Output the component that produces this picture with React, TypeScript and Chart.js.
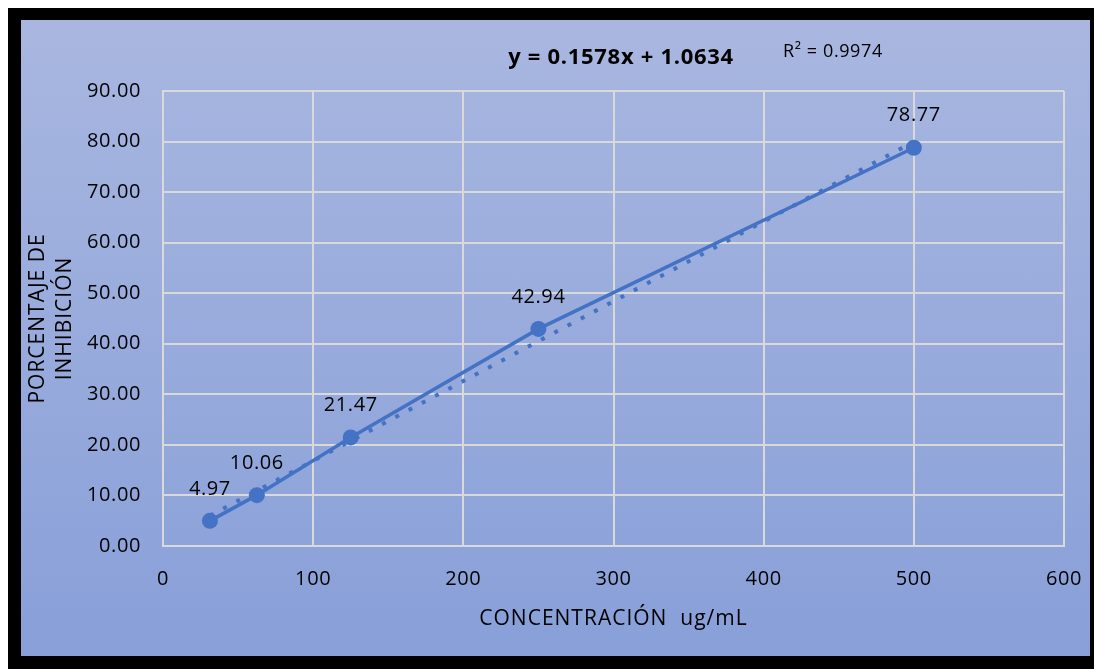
import React, { useEffect, useRef } from "react";
import { Chart, registerables } from "chart.js";

Chart.register(...registerables);

// Concentration (ug/mL) and measured inhibition (%)
const concentrations = [31.25, 62.5, 125, 250, 500];
const inhibition = [4.97, 10.06, 21.47, 42.94, 78.77];

// Linear fit shown on the chart
const slope = 0.1578;
const intercept = 1.0634;
const rSquared = 0.9974;

const yTitleLines = ["PORCENTAJE DE", "INHIBICIÓN"];
const xTitle = "CONCENTRACIÓN  ug/mL";

const LINE_COLOR = "#4472c4";
const GRID_COLOR = "rgba(217,217,217,1)";
const FONT = "'Open Sans', 'Noto Sans', sans-serif";

const textPlugin = {
  id: "chartText",
  afterDraw(chart: any) {
    const ctx = chart.ctx as CanvasRenderingContext2D;
    const xs = chart.scales.x;
    const ys = chart.scales.y;
    const area = chart.chartArea;
    ctx.save();
    ctx.fillStyle = "#000";
    (ctx as any).letterSpacing = "0.6px";

    // y tick labels
    ctx.font = `20px ${FONT}`;
    ctx.textAlign = "right";
    ctx.textBaseline = "middle";
    ys.ticks.forEach((t: any) => {
      ctx.fillText(Number(t.value).toFixed(2), area.left - 22, ys.getPixelForValue(t.value));
    });

    // x tick labels
    ctx.textAlign = "center";
    xs.ticks.forEach((t: any) => {
      ctx.fillText(String(t.value), xs.getPixelForValue(t.value), area.bottom + 33);
    });

    // data labels
    concentrations.forEach((c, i) => {
      ctx.fillText(inhibition[i].toFixed(2), xs.getPixelForValue(c), ys.getPixelForValue(inhibition[i]) - 32);
    });

    // axis titles
    (ctx as any).letterSpacing = "1px";
    ctx.font = `21px ${FONT}`;
    ctx.fillText(xTitle, (area.left + area.right) / 2, area.bottom + 73);

    const midY = (area.top + area.bottom) / 2;
    ctx.save();
    ctx.translate(17, midY);
    ctx.rotate(-Math.PI / 2);
    yTitleLines.forEach((line, i) => ctx.fillText(line, 0, i * 27));
    ctx.restore();

    // regression equation and R²
    ctx.font = `bold 22px ${FONT}`;
    (ctx as any).letterSpacing = "0.7px";
    ctx.fillText(`y = ${slope}x + ${intercept}`, 600, 38);
    ctx.font = `18px ${FONT}`;
    (ctx as any).letterSpacing = "0.6px";
    ctx.textAlign = "left";
    ctx.fillText(`R² = ${rSquared}`, 762, 32);
    ctx.restore();
  },
};

export default function App() {
  const canvasRef = useRef<HTMLCanvasElement | null>(null);

  useEffect(() => {
    if (!canvasRef.current) return;
    const first = concentrations[0];
    const last = concentrations[concentrations.length - 1];
    const trend = [
      { x: first, y: slope * first + intercept },
      { x: last, y: slope * last + intercept },
    ];
    const chart = new Chart(canvasRef.current, {
      type: "scatter",
      data: {
        datasets: [
          {
            label: "Tendencia",
            data: trend,
            showLine: true,
            borderColor: LINE_COLOR,
            borderWidth: 4,
            borderDash: [4, 11],
            pointRadius: 0,
            order: 0,
          },
          {
            label: "Inhibición",
            data: concentrations.map((c, i) => ({ x: c, y: inhibition[i] })),
            showLine: true,
            borderColor: LINE_COLOR,
            backgroundColor: LINE_COLOR,
            borderWidth: 3.5,
            pointRadius: 8,
            pointBorderWidth: 0,
            order: 1,
          },
        ],
      },
      options: {
        animation: false,
        responsive: false,
        maintainAspectRatio: false,
        layout: { padding: { top: 71, right: 26, left: 0, bottom: 0 } },
        plugins: { legend: { display: false }, tooltip: { enabled: false } },
        scales: {
          x: {
            type: "linear",
            min: 0,
            max: 600,
            ticks: { stepSize: 100, display: true, color: "rgba(0,0,0,0)" },
            grid: { color: GRID_COLOR, lineWidth: 2, drawTicks: false },
            border: { color: GRID_COLOR, width: 2 },
            afterFit: (s: any) => { s.height = 110; },
          },
          y: {
            min: 0,
            max: 90,
            ticks: { stepSize: 10, display: true, color: "rgba(0,0,0,0)" },
            grid: { color: GRID_COLOR, lineWidth: 2, drawTicks: false },
            border: { color: GRID_COLOR, width: 2 },
            afterFit: (s: any) => { s.width = 142; },
          },
        },
      },
      plugins: [textPlugin],
    });
    return () => chart.destroy();
  }, []);

  return (
    <div
      style={{
        position: "fixed",
        top: 8,
        left: 8,
        width: 1069,
        height: 636,
        borderStyle: "solid",
        borderColor: "#000",
        borderWidth: "12px 4px 13px 13px",
        background: "linear-gradient(180deg, #a9b7e0 0%, #98abdc 50%, #889fd8 100%)",
      }}
    >
      <canvas ref={canvasRef} width={1069} height={636} style={{ display: "block" }} />
    </div>
  );
}
